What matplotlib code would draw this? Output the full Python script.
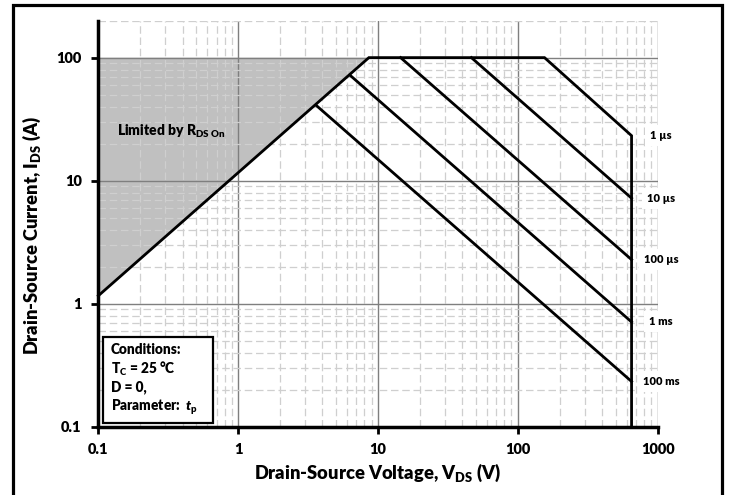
import matplotlib
matplotlib.use('Agg')
import matplotlib.pyplot as plt
from matplotlib.patches import Rectangle
from matplotlib.ticker import FixedLocator, FixedFormatter, LogLocator, NullFormatter

plt.rcParams['font.family'] = ['Lato', 'DejaVu Sans']
plt.rcParams['font.weight'] = 'heavy'
plt.rcParams['mathtext.fontset'] = 'custom'
plt.rcParams['mathtext.rm'] = 'Lato:heavy'
plt.rcParams['mathtext.bf'] = 'Lato:heavy'
plt.rcParams['mathtext.it'] = 'Lato:heavy:italic'
W = 'heavy'

# R_DS(on) limit line
v_rds = [0.1, 8.6]
i_rds = [1.16, 100]
i_max = 100
v_max = 650

# pulse lines: start point on the limit, end current at v_max
pulse_labels = ['1 µs', '10 µs', '100 µs', '1 ms', '100 ms']
pulse_v_start = [155, 46.5, 14.5, 6.3, 3.65]
pulse_i_start = [100, 100, 100, 72, 40.5]
pulse_i_end = [23.2, 7.2, 2.28, 0.71, 0.233]

x_ticks = [0.1, 1, 10, 100, 1000]
x_tick_labels = ['0.1', '1', '10', '100', '1000']
y_ticks = [0.1, 1, 10, 100]
y_tick_labels = ['0.1', '1', '10', '100']

fig = plt.figure(figsize=(7.3, 4.95), dpi=100)
ax = fig.add_axes([0.1347, 0.138, 0.7663, 0.8204])
ax.set_xscale('log')
ax.set_yscale('log')
ax.set_xlim(0.1, 1000)
ax.set_ylim(0.1, 200)

# shaded region
ax.fill([v_rds[0], v_rds[0], v_rds[1]], [i_max, i_rds[0], i_max],
        color='#c0c0c0', lw=0, zorder=1)

# outer boundary
ax.plot([v_rds[0], v_rds[1], pulse_v_start[0], v_max, v_max],
        [i_rds[0], i_rds[1], i_max, pulse_i_end[0], 0.1],
        color='black', lw=2.0, zorder=3, solid_joinstyle='miter', clip_on=False)
for k in range(1, len(pulse_labels)):
    ax.plot([pulse_v_start[k], v_max], [pulse_i_start[k], pulse_i_end[k]],
            color='black', lw=2.0, zorder=3)

for k, lab in enumerate(pulse_labels):
    ax.text(1060, pulse_i_end[k], lab, fontsize=8, fontweight=W,
            ha='center', va='center', clip_on=False, zorder=4,
            bbox=dict(boxstyle='square,pad=0.45', fc='white', ec='none'))

# grid
ax.xaxis.set_major_locator(FixedLocator(x_ticks))
ax.xaxis.set_major_formatter(FixedFormatter(x_tick_labels))
ax.yaxis.set_major_locator(FixedLocator(y_ticks))
ax.yaxis.set_major_formatter(FixedFormatter(y_tick_labels))
ax.xaxis.set_minor_locator(LogLocator(base=10, subs=range(2, 10), numticks=20))
ax.yaxis.set_minor_locator(LogLocator(base=10, subs=range(2, 10), numticks=20))
ax.xaxis.set_minor_formatter(NullFormatter())
ax.yaxis.set_minor_formatter(NullFormatter())
ax.grid(which='major', color='#7f7f7f', lw=1.0, ls='-')
ax.grid(which='minor', color='#cfcfcf', lw=0.9, ls=(0, (6, 3)))
ax.tick_params(which='minor', length=0)
ax.tick_params(which='major', direction='out', length=5, width=2,
               labelsize=10.5, pad=7, color='black')
for lab in ax.get_xticklabels() + ax.get_yticklabels():
    lab.set_fontweight(W)

for s in ['top', 'right']:
    ax.spines[s].set_visible(False)
for s in ['left', 'bottom']:
    ax.spines[s].set_linewidth(2.5)

ax.text(0.5, -0.113, r'Drain-Source Voltage, V$_{\rm DS}$ (V)', transform=ax.transAxes,
        ha='center', va='center', fontsize=13.2, fontweight=W)
ax.text(-0.1185, 0.472, r'Drain-Source Current, I$_{\rm DS}$ (A)', transform=ax.transAxes,
        ha='center', va='center', rotation=90, fontsize=13.2, fontweight=W)

ax.text(0.034, 0.728, r'Limited by R$_{\rm DS\ On}$', transform=ax.transAxes,
        ha='left', va='center', fontsize=10, fontweight=W, zorder=4)

# conditions box
ax.add_patch(Rectangle((0.0084, 0.0091), 0.1966, 0.2118, transform=ax.transAxes,
                       fc='white', ec='black', lw=1.6, zorder=5))
cond_lines = ['Conditions:', r'T$_{\rm C}$ = 25 °C', 'D = 0,', r'Parameter:  $t_{\rm p}$']
cond_y = [0.189, 0.142, 0.097, 0.048]
for t, yy in zip(cond_lines, cond_y):
    ax.text(0.0227, yy, t, transform=ax.transAxes, ha='left', va='center',
            fontsize=9.8, fontweight=W, zorder=6)

# outer frame
fig.patches.append(Rectangle((12.5 / 730, -0.006), 709 / 730, 1 - 5 / 495 + 0.006,
                             transform=fig.transFigure, fill=False, ec='black', lw=2.3))

fig.savefig('out.png', dpi=100)
